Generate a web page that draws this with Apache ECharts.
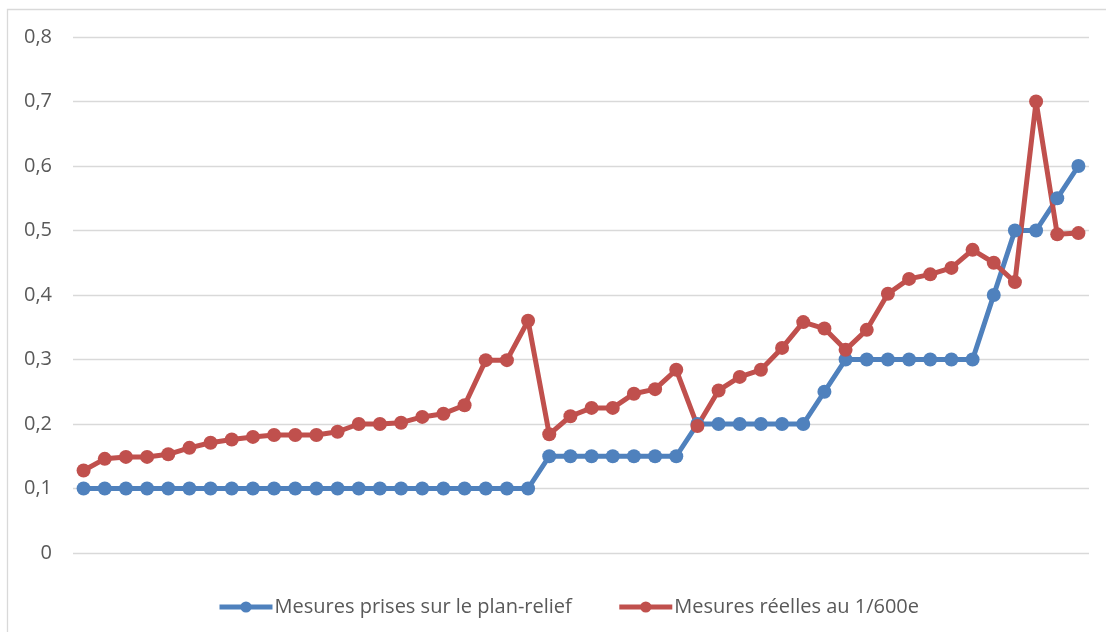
<!DOCTYPE html>
<html>
<head>
<meta charset="utf-8">
<script src="https://cdn.jsdelivr.net/npm/echarts@6/dist/echarts.min.js"></script>
<style>
  html, body { margin: 0; padding: 0; background: #ffffff; }
  #chart { width: 1106px; height: 632px; }
</style>
</head>
<body>
<div id="chart"></div>
<script>
// Sample numbers (1..48) along the x axis
const categories = Array.from({ length: 48 }, (_, i) => String(i + 1));

const seriesNames = ['Mesures prises sur le plan-relief', 'Mesures réelles au 1/600e'];

// Measurements taken on the relief map
const planRelief = [
  0.1, 0.1, 0.1, 0.1, 0.1, 0.1, 0.1, 0.1, 0.1, 0.1, 0.1, 0.1,
  0.1, 0.1, 0.1, 0.1, 0.1, 0.1, 0.1, 0.1, 0.1, 0.1,
  0.15, 0.15, 0.15, 0.15, 0.15, 0.15, 0.15,
  0.2, 0.2, 0.2, 0.2, 0.2, 0.2,
  0.25,
  0.3, 0.3, 0.3, 0.3, 0.3, 0.3, 0.3,
  0.4, 0.5, 0.5, 0.55, 0.6
];

// Real measurements scaled at 1/600
const reelles = [
  0.128, 0.146, 0.149, 0.149, 0.153, 0.163, 0.171, 0.176, 0.180, 0.183, 0.183, 0.183,
  0.188, 0.200, 0.200, 0.202, 0.211, 0.216, 0.229, 0.299, 0.299, 0.360,
  0.184, 0.212, 0.225, 0.225, 0.247, 0.254, 0.284,
  0.197, 0.252, 0.273, 0.284, 0.318, 0.358,
  0.348,
  0.315, 0.346, 0.402, 0.425, 0.432, 0.442, 0.470,
  0.450, 0.420, 0.700, 0.494, 0.496
];

const yTicks = { min: 0, max: 0.8, interval: 0.1 };

const colors = ['#4F81BD', '#C0504D'];
const textColor = '#595959';
const gridColor = '#D9D9D9';
const fontFamily = '"Open Sans", "Noto Sans", sans-serif';

const chart = echarts.init(document.getElementById('chart'), null, { renderer: 'canvas' });

function lineSeries(name, data, color) {
  return {
    name: name,
    type: 'line',
    data: data,
    symbol: 'circle',
    symbolSize: 14,
    showAllSymbol: true,
    lineStyle: { color: color, width: 5 },
    itemStyle: { color: color },
    emphasis: { disabled: true },
    animation: false
  };
}

chart.setOption({
  backgroundColor: '#ffffff',
  animation: false,
  color: colors,
  graphic: [{
    type: 'rect',
    shape: { x: 7.5, y: 9.5, width: 1200, height: 700 },
    style: { fill: 'none', stroke: gridColor, lineWidth: 1.3 },
    silent: true,
    z: -10
  }],
  grid: { left: 73, right: 17, top: 37, bottom: 79, containLabel: false },
  xAxis: {
    type: 'category',
    data: categories,
    boundaryGap: true,
    axisLine: { show: false },
    axisTick: { show: false },
    axisLabel: { show: false },
    splitLine: { show: false }
  },
  yAxis: {
    type: 'value',
    min: yTicks.min,
    max: yTicks.max,
    interval: yTicks.interval,
    axisLine: { show: false },
    axisTick: { show: false },
    axisLabel: {
      color: textColor,
      fontSize: 20,
      fontFamily: fontFamily,
      margin: 21,
      formatter: v => (v === 0 ? '0' : v.toFixed(1).replace('.', ','))
    },
    splitLine: { show: true, lineStyle: { color: gridColor, width: 1.3 } }
  },
  legend: {
    left: 217,
    top: 597,
    padding: 0,
    itemWidth: 53,
    itemHeight: 14,
    itemGap: 45,
    lineStyle: { width: 5 },
    textStyle: { color: textColor, fontSize: 20, fontFamily: fontFamily, padding: [0, 0, 0, -3] },
    data: seriesNames
  },
  series: [
    lineSeries(seriesNames[0], planRelief, colors[0]),
    lineSeries(seriesNames[1], reelles, colors[1])
  ]
});
</script>
</body>
</html>
